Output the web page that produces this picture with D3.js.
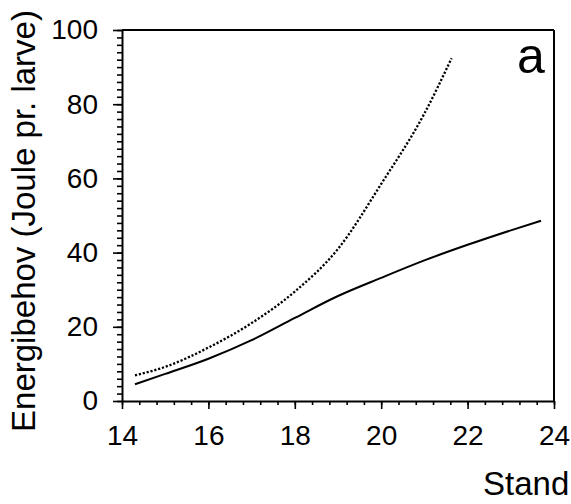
<!DOCTYPE html>
<html>
<head>
<meta charset="utf-8">
<script src="https://cdn.jsdelivr.net/npm/d3@7"></script>
<style>
body { margin: 0; background: #fff; }
svg { display: block; }
</style>
</head>
<body>
<svg></svg>
<script>
// values
var lengthSolid = [14.3, 15, 16, 17, 18, 19, 20, 21, 22, 23, 23.7];
var energySolid = [4.5, 7.3, 11.4, 16.4, 22.4, 28.3, 33.2, 37.9, 42.1, 46.0, 48.6];
var lengthDotted = [14.3, 15, 16, 17, 18, 19, 20, 21, 21.63];
var energyDotted = [6.9, 9.2, 14.4, 21.0, 29.5, 41.0, 58.5, 77.5, 92.4];
var xTicks = [14, 16, 18, 20, 22, 24];
var yTicks = [0, 20, 40, 60, 80, 100];
var yLabel = 'Energibehov (Joule pr. larve)';
var xLabel = 'Stand';
var panelLabel = 'a';

var W = 571, H = 504;
var margins = {top: 30, bottom: 103, left: 122, right: 17};
var width = W - margins.left - margins.right;
var height = H - margins.top - margins.bottom;
var font = '"Liberation Sans", Arial, sans-serif';

var root = d3.select('svg')
  .attr('width', W)
  .attr('height', H)
  .style('font-family', font);

var svg = root.append('g')
  .attr('transform', `translate(${margins.left}, ${margins.top})`);

var xScale = d3.scaleLinear().domain([14, 24]).range([0, width]);
var yScale = d3.scaleLinear().domain([0, 100]).range([height, 0]);

// minor ticks
svg.append('g')
  .attr('class', 'minor')
  .call(d3.axisLeft(yScale).tickValues(d3.range(0, 101, 2)).tickSize(5).tickFormat(''));
svg.append('g')
  .attr('class', 'minor')
  .attr('transform', `translate(0, ${height})`)
  .call(d3.axisBottom(xScale).tickValues(d3.range(14, 24.01, 0.4)).tickSize(4).tickFormat(''));
svg.selectAll('.minor .domain').remove();

// major ticks + labels
svg.append('g')
  .attr('class', 'major')
  .call(d3.axisLeft(yScale).tickValues(yTicks).tickSizeInner(9).tickSizeOuter(0).tickPadding(15));
svg.append('g')
  .attr('class', 'major')
  .attr('transform', `translate(0, ${height})`)
  .call(d3.axisBottom(xScale).tickValues(xTicks).tickSizeInner(8).tickSizeOuter(0).tickPadding(16));

svg.selectAll('.major text')
  .attr('font-size', 28)
  .attr('font-family', font)
  .attr('fill', '#000');
svg.selectAll('.tick line').attr('stroke', '#000').attr('stroke-width', 1.6);
svg.selectAll('.domain').attr('stroke', '#000').attr('stroke-width', 2);

// frame top and right
svg.append('line')
  .attr('x1', xScale(14)).attr('x2', xScale(24))
  .attr('y1', yScale(100)).attr('y2', yScale(100))
  .style('stroke', 'black').style('stroke-width', 2);
svg.append('line')
  .attr('x1', xScale(24)).attr('x2', xScale(24))
  .attr('y1', yScale(100)).attr('y2', yScale(0))
  .style('stroke', 'black').style('stroke-width', 2);

var line = d3.line()
  .x(d => xScale(d[0]))
  .y(d => yScale(d[1]))
  .curve(d3.curveMonotoneX);

svg.append('path')
  .datum(lengthSolid.map((v, i) => [v, energySolid[i]]))
  .attr('d', line)
  .style('fill', 'none')
  .style('stroke', 'black')
  .style('stroke-width', 2);

svg.append('path')
  .datum(lengthDotted.map((v, i) => [v, energyDotted[i]]))
  .attr('d', line)
  .style('fill', 'none')
  .style('stroke', 'black')
  .style('stroke-width', 2.3)
  .style('stroke-dasharray', '2.2,1.8');

// labels
root.append('text')
  .attr('transform', 'translate(35, 221) rotate(-90)')
  .attr('text-anchor', 'middle')
  .attr('font-size', 33)
  .text(yLabel);

root.append('text')
  .attr('x', 483)
  .attr('y', 495)
  .attr('font-size', 33)
  .text(xLabel);

root.append('text')
  .attr('x', 517)
  .attr('y', 73)
  .attr('font-size', 50)
  .text(panelLabel);
</script>
</body>
</html>
